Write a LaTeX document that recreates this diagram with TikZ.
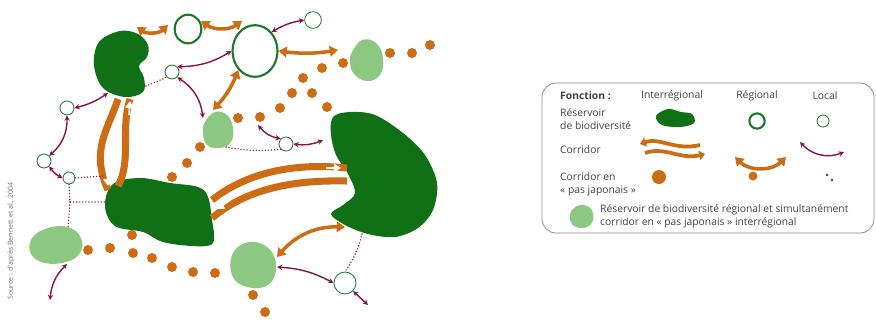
\documentclass[tikz,border=0pt]{standalone}
\usepackage{fontspec}
\setmainfont{Open Sans}
\usetikzlibrary{arrows.meta,positioning,shapes.geometric}
\definecolor{DeepGreen}{RGB}{16,112,22}
\definecolor{PaleGreen}{RGB}{140,200,130}
\definecolor{RingGreen}{RGB}{28,120,45}
\definecolor{Ochre}{RGB}{204,108,20}
\definecolor{Plum}{RGB}{135,20,75}
\definecolor{FrameGray}{RGB}{140,140,140}
\tikzset{
  coreres/.style={fill=DeepGreen},
  relay/.style={fill=PaleGreen},
  regres/.style={ellipse,draw=RingGreen,line width=1.8pt,fill=white,inner sep=0pt},
  locres/.style={circle,draw=RingGreen,line width=0.7pt,fill=white,inner sep=0pt},
  stone/.style={circle,fill=Ochre,inner sep=0pt,minimum size=0.3cm},
  regarrow/.style={{Triangle[length=7pt,width=9pt]}-{Triangle[length=7pt,width=9pt]},
    line width=3pt,Ochre},
  locarrow/.style={{Stealth[length=4.5pt,width=4.5pt]}-{Stealth[length=4.5pt,width=4.5pt]},
    line width=1.2pt,Plum},
  locdots/.style={Plum,line width=1.3pt,line cap=round,dash pattern=on 0pt off 2.6pt},
  interband/.style={Ochre,line width=6pt},
  whitetip/.style={-{Triangle[length=6pt,width=7pt]},white,line width=1.4pt},
  legtext/.style={anchor=west,align=left,font=\fontsize{8.8}{10.8}\selectfont,
    text=black!75,inner sep=0pt}
}

\begin{document}
\begin{tikzpicture}[x=0.03cm,y=-0.03cm]
  \useasboundingbox (0,0) rectangle (876,322);

  % stepping stones
  \foreach \px/\py [count=\i] in {430/45,412/53,390/53,343/63,322/68,303/78,
      292/93,312/93,280/108,327/107,260/117,238/118,200/147,187/163,172/177,
      88/250,110/248,132/235,133/253,152/258,172/267,193/272,215/273,253/295,265/312}
    \node[stone] (st\i) at (\px,\py) {};

  % core reservoirs
  \fill[coreres] plot[smooth cycle,tension=0.6] coordinates {(120,31) (138,34)
    (148,45) (147,57) (139,66) (144,78) (143,92) (125,97) (103,88) (94,65) (99,42)};
  \fill[coreres] plot[smooth cycle,tension=0.6] coordinates {(113,184) (140,178)
    (170,183) (198,187) (208,197) (212,220) (214,240) (206,246) (180,245)
    (160,241) (143,232) (115,226) (105,206)};
  \fill[coreres] plot[smooth cycle,tension=0.55] coordinates {(333,117) (350,112)
    (375,115) (403,133) (425,155) (437,183) (433,210) (418,228) (395,237)
    (368,234) (345,225) (331,214) (343,205) (355,193) (347,172) (336,155) (331,135)};
  \coordinate (nwbot) at (118,99);
  \coordinate (nwright) at (146,86);
  \coordinate (nwleft) at (108,93);
  \coordinate (midtop) at (118,186);
  \coordinate (midleft) at (106,202);
  \coordinate (eastbot) at (362,234);
  \coordinate (eastleft) at (323,140);

  % relay reservoirs
  \fill[relay] plot[smooth cycle,tension=0.7] coordinates {(352,52) (362,40)
    (376,43) (383,58) (380,75) (367,81) (354,74) (350,62)};
  \fill[relay] plot[smooth cycle,tension=0.7] coordinates {(205,122) (215,112)
    (227,115) (233,128) (231,142) (220,148) (207,145) (203,133)};
  \fill[relay] plot[smooth cycle,tension=0.7] coordinates {(32,238) (48,228)
    (68,227) (81,238) (80,253) (66,262) (45,263) (31,254)};
  \fill[relay] plot[smooth cycle,tension=0.7] coordinates {(232,255) (245,243)
    (262,244) (274,256) (275,275) (264,287) (244,286) (232,275)};
  \coordinate (relmidtop) at (213,110);
  \coordinate (relmidleft) at (203,118);
  \coordinate (relmidbot) at (226,147);
  \coordinate (relbltop) at (68,228);
  \coordinate (relblbot) at (67,264);
  \coordinate (relbmright) at (277,257);
  \coordinate (relbmright2) at (277,267);
  \coordinate (regtoptip) at (338,50);
  \coordinate (eastlow) at (345,227);

  % regional and local reservoirs
  \node[regres,minimum width=0.8cm,minimum height=0.86cm] (reg1) at (188,29) {};
  \node[regres,minimum width=1.35cm,minimum height=1.55cm] (reg2) at (255,51) {};
  \node[locres,minimum size=0.5cm] (loc1) at (313,20) {};
  \node[locres,minimum size=0.42cm] (loc2) at (172,72) {};
  \node[locres,minimum size=0.42cm] (loc3) at (67,108) {};
  \node[locres,minimum size=0.42cm] (loc4) at (44,161) {};
  \node[locres,minimum size=0.36cm] (loc5) at (69,178) {};
  \node[locres,minimum size=0.42cm] (loc6) at (286,144) {};
  \node[locres,minimum size=0.66cm] (loc7) at (345,283) {};

  % interregional corridors
  \draw[interband] (nwbot) .. controls (108,130) and (90,150) .. (108,190);
  \draw[interband] (midtop) .. controls (132,160) and (120,130) .. (130,99);
  \draw[whitetip] (107,172) -- (108,186);
  \draw[whitetip] (129,115) -- (130,101);
  \draw[interband] (212,200) .. controls (250,170) and (300,163) .. (347,168);
  \draw[interband] (212,218) .. controls (250,186) and (300,180) .. (347,181);
  \draw[whitetip] (326,168) -- (341,168);
  \draw[whitetip] (229,201) -- (217,209);

  % regional corridors
  \draw[regarrow] (137,27) to[bend right=40] (168,25);
  \draw[regarrow] (201,21) to[bend right=35] (242,21);
  \draw[regarrow] (reg2.east) to[bend right=8] (regtoptip);
  \draw[regarrow] (reg2.south west) to[bend left=10] (relmidtop);
  \draw[regarrow] (relbmright) to[bend left=25] (eastlow);

  % local corridors
  \draw[locarrow] (reg2.north east) to[bend left=10] (loc1.west);
  \draw[locarrow] (reg2.west) to[bend left=15] (loc2.north east);
  \draw[locarrow] (loc2.south east) to[bend left=25] (relmidleft);
  \draw[locarrow] (loc3.east) to[bend right=10] (nwleft);
  \draw[locarrow] (loc3.south) to[bend left=25] (loc4.north east);
  \draw[locarrow] (loc4.south east) to[bend right=15] (loc5.west);
  \coordinate (la7end) at (50,300);
  \draw[locarrow] (relblbot) to[bend right=20] (la7end);
  \coordinate (la8start) at (258,125);
  \draw[locarrow] (la8start) to[bend right=20] (loc6.north west);
  \draw[locarrow] (loc6.east) to[bend right=15] (eastleft);
  \draw[locarrow] (relbmright2) to[bend left=12] (loc7.west);
  \coordinate (la11end) at (368,305);
  \draw[locarrow] (loc7.south east) -- (la11end);

  % local stepping-stone links
  \draw[locdots] (nwright) -- (loc2.south west);
  \draw[locdots] (relmidbot) to[bend right=8] (loc6.south west);
  \draw[locdots] (loc5.east) -- (104,176);
  \coordinate (knee) at (70,202);
  \draw[locdots] (loc5.south) -- (knee) -- (midleft);
  \draw[locdots] (knee) -- (relbltop);
  \draw[locdots] (eastbot) to[bend left=10] (loc7.north);

  % source
  \node[rotate=90,font=\fontsize{6}{7}\selectfont,text=black!55] (src) at (11,241)
    {Source : d'après Bennett et al., 2004};

  % legend
  \draw[FrameGray,line width=0.7pt,rounded corners=12pt] (542,83) rectangle (874,233);
  \node[legtext,font=\fontsize{8.8}{10.8}\selectfont\bfseries] (hfun) at (560,96) {Fonction :};
  \node[legtext,anchor=center] (hinter) at (672,96) {Interrégional};
  \node[legtext,anchor=center] (hreg) at (757,96) {Régional};
  \node[legtext,anchor=center] (hloc) at (825,96) {Local};
  \node[legtext] (lres) at (560,119) {Réservoir\\de biodiversité};
  \node[legtext] (lcor) at (560,150) {Corridor};
  \node[legtext] (lpas) at (560,184) {Corridor en\\« pas japonais »};
  \node[legtext] (lrel) at (600,216)
    {Réservoir de biodiversité régional et simultanément\\corridor en « pas japonais » interrégional};

  \fill[coreres] plot[smooth cycle,tension=0.6] coordinates {(656,116) (668,109)
    (681,112) (692,114) (694,123) (680,127) (662,125)};
  \node[regres,minimum size=0.46cm] (kreg) at (757,121) {};
  \node[locres,minimum size=0.36cm] (kloc) at (823,121) {};

  \draw[Ochre,line width=3.2pt,-{Triangle[length=5pt,width=8pt]}]
    (700,145) .. controls (675,151) and (660,137) .. (640,144);
  \draw[Ochre,line width=3.2pt,-{Triangle[length=5pt,width=8pt]}]
    (645,153) .. controls (665,146) and (680,160) .. (705,154);
  \draw[regarrow] (735,157) to[bend right=45] (786,157);
  \draw[locarrow] (800,142) to[bend right=35] (844,152);

  \node[stone,minimum size=0.42cm] (kst1) at (659,177) {};
  \node[stone,minimum size=0.27cm] (kst2) at (753,176) {};
  \fill[Plum] (827,175) circle (1.3) (832,180) circle (1.3);
  \fill[relay] plot[smooth cycle,tension=0.7] coordinates {(572,210) (581,205)
    (591,209) (593,220) (587,227) (576,227) (570,220)};
\end{tikzpicture}
\end{document}
